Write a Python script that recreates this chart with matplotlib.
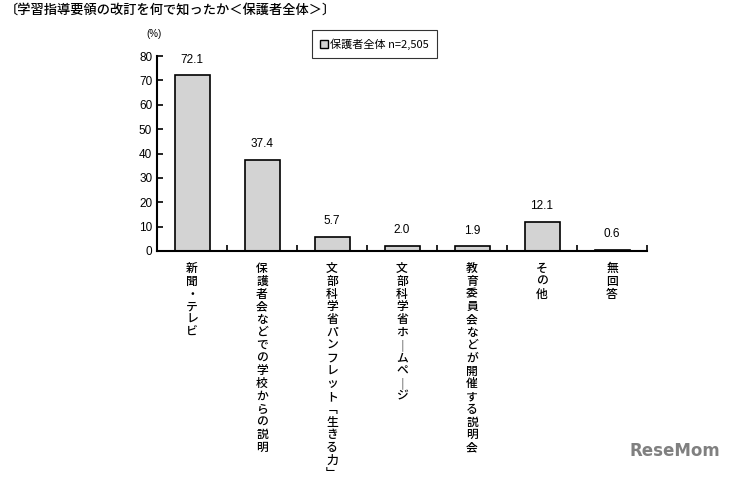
import matplotlib.pyplot as plt
from matplotlib.patches import Patch

plt.rcParams['font.family'] = ['Noto Sans CJK JP', 'DejaVu Sans']

categories = ['新聞・テレビ', '保護者会などでの学校からの説明', '文部科学省パンフレット﹁生きる力﹂',
              '文部科学省ホ｜ムペ｜ジ', '教育委員会などが開催する説明会', 'その他', '無回答']
values = [72.1, 37.4, 5.7, 2.0, 1.9, 12.1, 0.6]
yticks = [0, 10, 20, 30, 40, 50, 60, 70, 80]
title = '〔学習指導要領の改訂を何で知ったか＜保護者全体＞〕'
legend_label = '保護者全体 n=2,505'

num_font = ['Liberation Sans', 'DejaVu Sans']

fig = plt.figure(figsize=(7.52, 4.79), dpi=100)
ax = fig.add_axes([0.2088, 0.476, 0.6516, 0.407])

x = range(len(values))
ax.bar(x, values, width=0.5, color='#d3d3d3', edgecolor='black', linewidth=1.2)
for xi, v in zip(x, values):
    ax.text(xi, v + 4, f'{v:.1f}', ha='center', va='bottom', fontsize=8.5,
            family=num_font)

ax.set_xlim(-0.5, len(values) - 0.5)
ax.set_ylim(0, 80)
ax.set_yticks(yticks)
ax.tick_params(axis='y', direction='in', length=4, width=1.2, labelsize=8.5)
for lbl in ax.get_yticklabels():
    lbl.set_family(num_font)
ax.set_xticks([i + 0.5 for i in range(len(values))])
ax.tick_params(axis='x', direction='in', length=4, width=1.2, labelbottom=False)
for s in ['top', 'right']:
    ax.spines[s].set_visible(False)
for s in ['left', 'bottom']:
    ax.spines[s].set_linewidth(1.5)

for xi, name in zip(x, categories):
    ax.text(xi, -4.5, '\n'.join(name), ha='center', va='top', fontsize=8.5,
            linespacing=0.98, fontweight='medium')

ax.text(-0.55, 87, '(%)', ha='center', va='bottom', fontsize=7, family=num_font)

leg = ax.legend([Patch(facecolor='#d3d3d3', edgecolor='black')], [legend_label],
                loc='upper left', bbox_to_anchor=(0.316, 1.135), fontsize=8,
                frameon=True, fancybox=False, edgecolor='black', handlelength=0.7,
                handleheight=0.7, handletextpad=0.2, borderpad=0.75, borderaxespad=0)
leg.get_frame().set_linewidth(0.8)

fig.text(0.006, 0.995, title, ha='left', va='top', fontsize=9.5, fontweight='medium')
fig.text(0.958, 0.04, 'ReseMom', ha='right', va='bottom', fontsize=12,
         fontweight='bold', color='#808080', family='DejaVu Sans')

fig.savefig('out.png', dpi=100)
